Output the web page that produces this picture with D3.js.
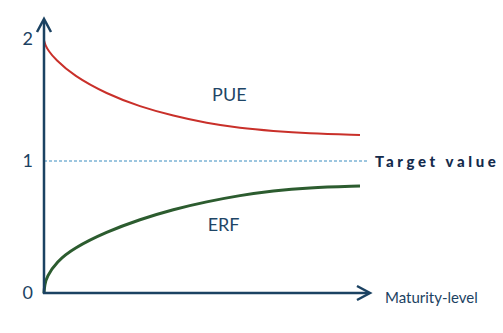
<!DOCTYPE html>
<html>
<head>
<meta charset="utf-8">
<script src="https://cdn.jsdelivr.net/npm/d3@7"></script>
<style>
  html, body { margin: 0; padding: 0; background: #fff; }
  svg { display: block; }
  text { font-family: Lato, "Open Sans", sans-serif; }
</style>
</head>
<body>
<svg id="chart" width="503" height="333"></svg>
<script>
// ---- data ----
const yTicks = [0, 1, 2];
const yTickLabels = ["0", "1", "2"];
const targetValue = 1;
const targetLabel = "Target value";
const xAxisLabel = "Maturity-level";

const pueX = [0, 0.04, 0.15, 0.35, 0.93, 1.98, 3.04, 4.09, 5.15, 6.20, 7.26, 8.31, 10];
const pueY = [1.99, 1.95, 1.90, 1.835, 1.70, 1.55, 1.445, 1.37, 1.31, 1.27, 1.246, 1.227, 1.213];
const erfX = [0, 0.02, 0.085, 0.40, 0.93, 1.98, 3.04, 4.09, 5.15, 6.20, 7.26, 8.31, 10];
const erfY = [0, 0.06, 0.123, 0.237, 0.339, 0.464, 0.558, 0.634, 0.692, 0.740, 0.775, 0.798, 0.811];
const seriesNames = ["PUE", "ERF"];

// ---- layout ----
const svg = d3.select("#chart");
const axisColor = "#1b4262";
const x = d3.scaleLinear().domain([0, 10]).range([44, 360]);
const y = d3.scaleLinear().domain([0, 1, 2]).range([293, 161, 39]);
const xAxisEnd = 370, yAxisTop = 19;

// target dashed line
svg.append("line")
  .attr("x1", x(0)).attr("x2", 369)
  .attr("y1", y(targetValue)).attr("y2", y(targetValue))
  .attr("stroke", "#3b8dbf").attr("stroke-width", 1)
  .attr("stroke-dasharray", "3,2");

svg.append("text")
  .attr("x", 375).attr("y", y(targetValue) + 5.5)
  .attr("fill", "#142b4c")
  .attr("font-weight", 900)
  .attr("font-size", 15)
  .attr("letter-spacing", 3.6)
  .text(targetLabel);

// curves
const line = d3.line().x(d => x(d[0])).y(d => y(d[1])).curve(d3.curveBasis);
svg.append("path")
  .datum(pueX.map((v, i) => [v, pueY[i]]))
  .attr("d", line).attr("fill", "none")
  .attr("stroke", "#c9302a").attr("stroke-width", 2);
svg.append("path")
  .datum(erfX.map((v, i) => [v, erfY[i]]))
  .attr("d", line).attr("fill", "none")
  .attr("stroke", "#2c5c2f").attr("stroke-width", 3);

// series labels
svg.append("text").attr("x", x(5.32)).attr("y", y(1.49))
  .attr("font-size", 18).attr("fill", "#1e4566")
  .text(seriesNames[0]);
svg.append("text").attr("x", x(5.18)).attr("y", y(0.472))
  .attr("font-size", 18).attr("fill", "#1e4566")
  .text(seriesNames[1]);

// axes lines
svg.append("line").attr("x1", x(0)).attr("x2", x(0))
  .attr("y1", y(0) + 1).attr("y2", yAxisTop + 1)
  .attr("stroke", axisColor).attr("stroke-width", 2.5);
svg.append("line").attr("x1", x(0) - 1).attr("x2", xAxisEnd - 1)
  .attr("y1", y(0)).attr("y2", y(0))
  .attr("stroke", axisColor).attr("stroke-width", 2.5);
// arrowheads
svg.append("polyline")
  .attr("points", `${x(0) - 7},${yAxisTop + 13} ${x(0)},${yAxisTop} ${x(0) + 7},${yAxisTop + 13}`)
  .attr("fill", "none").attr("stroke", axisColor).attr("stroke-width", 2.5)
  .attr("stroke-linejoin", "miter");
svg.append("polyline")
  .attr("points", `${xAxisEnd - 13},${y(0) - 7} ${xAxisEnd},${y(0)} ${xAxisEnd - 13},${y(0) + 7}`)
  .attr("fill", "none").attr("stroke", axisColor).attr("stroke-width", 2.5)
  .attr("stroke-linejoin", "miter");

// y axis ticks via d3 axis
const yAxis = d3.axisLeft(y).tickValues(yTicks)
  .tickFormat((d, i) => yTickLabels[i]).tickSize(0).tickPadding(11);
const gy = svg.append("g").attr("transform", `translate(${x(0)},0)`).call(yAxis);
gy.select(".domain").remove();
gy.selectAll("text").attr("font-size", 18).attr("fill", axisColor)
  .attr("font-family", "Lato, sans-serif").attr("dy", "0.3em");

// x axis label
svg.append("text").attr("x", 385).attr("y", 303)
  .attr("font-size", 15).attr("fill", axisColor)
  .text(xAxisLabel);
</script>
</body>
</html>
